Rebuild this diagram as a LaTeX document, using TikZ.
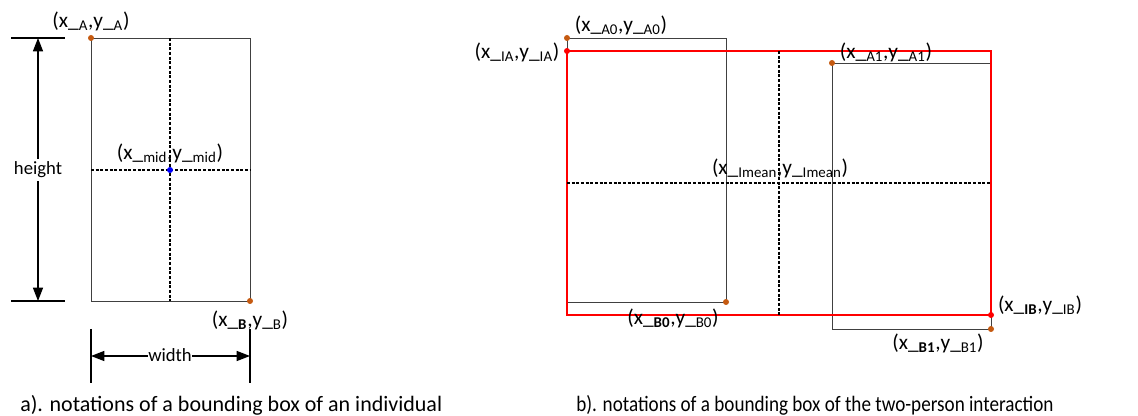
\documentclass[tikz,border=0pt]{standalone}
\usepackage{fontspec}
\setmainfont{Carlito}
\usetikzlibrary{arrows.meta}
\definecolor{cornerorange}{HTML}{C55A11}
\definecolor{boxgray}{HTML}{404040}
\newcommand{\subtxt}[1]{\textsubscript{#1}}
\tikzset{
	boxline/.style={
			draw=boxgray,
			line width=0.7pt
		},
	ibox/.style={
			draw=red,
			line width=0.8pt
		},
	midline/.style={
			draw=black,
			line width=0.9pt,
			dash pattern=on 2.2pt off 1.3pt
		},
	dimline/.style={
			draw=black,
			line width=1pt
		},
	dimarrow/.style={
			dimline,
			{Triangle[length=10pt,width=7.5pt]}-{Triangle[length=10pt,width=7.5pt]}
		},
	cornerdot/.style={
			circle,
			fill=cornerorange,
			inner sep=0pt,
			minimum size=4.5pt
		},
	idot/.style={
			cornerdot,
			fill=red
		},
	middot/.style={
			cornerdot,
			fill=blue
		},
	coordtext/.style={
			font=\fontsize{16}{18}\selectfont,
			inner sep=1pt
		},
	dimtext/.style={
			font=\fontsize{14}{16}\selectfont,
			fill=white
		},
	captiontext/.style={
			font=\fontsize{16.5}{19}\selectfont,
			inner sep=0pt
		}
}

\begin{document}
\begin{tikzpicture}[x=0.75pt, y=-0.75pt]
  \useasboundingbox (0,0) rectangle (1138,416);

  % a) single bounding box
  \coordinate (A) at (91,38);
  \coordinate (B) at (250,301);
  \coordinate (M) at (170,170);

  \draw[boxline] (A) rectangle (B);
  \draw[midline] (M |- A) -- (M |- B);
  \draw[midline] (A |- M) -- (B |- M);

  \node[cornerdot] (dA) at (A) {};
  \node[cornerdot] (dB) at (B) {};
  \node[middot] (dM) at (M) {};

  \node[coordtext] (tA) at (91,21) {(x\_\subtxt{A},y\_\subtxt{A})};
  \node[coordtext] (tM) at (170,153) {(x\_\subtxt{mid},y\_\subtxt{mid})};
  \node[coordtext] (tB) at (250,320) {(x\_\subtxt{\textbf{B}},y\_\subtxt{B})};

  % height
  \coordinate (htop) at (38,38);
  \coordinate (hbot) at (38,301);
  \draw[dimline] (11,38) -- (65,38);
  \draw[dimline] (11,301) -- (65,301);
  \draw[dimarrow] (htop) -- (hbot);
  \node[dimtext, inner sep=2pt] (height) at (38,170) {height};

  % width
  \coordinate (wleft) at (91,356);
  \coordinate (wright) at (250,356);
  \draw[dimline] (91,329) -- (91,383);
  \draw[dimline] (250,329) -- (250,383);
  \draw[dimarrow] (wleft) -- (wright);
  \node[dimtext, inner sep=0.5pt] (width) at (170,355) {width};

  % b) two-person interaction
  \coordinate (A0) at (567,38);
  \coordinate (B0) at (726,302);
  \coordinate (A1) at (832,63);
  \coordinate (B1) at (991,329);
  \coordinate (IA) at (567,51);
  \coordinate (IB) at (991,315);
  \coordinate (Imean) at (779,183);

  \draw[boxline] (A0) rectangle (B0);
  \draw[boxline] (A1) rectangle (B1);
  \draw[ibox] (IA) rectangle (IB);
  \draw[midline] (Imean |- IA) -- (Imean |- IB);
  \draw[midline] (IA |- Imean) -- (IB |- Imean);

  \node[cornerdot] (dA0) at (A0) {};
  \node[cornerdot] (dB0) at (B0) {};
  \node[cornerdot] (dA1) at (A1) {};
  \node[cornerdot] (dB1) at (B1) {};
  \node[idot] (dIA) at (IA) {};
  \node[idot] (dIB) at (IB) {};

  \node[coordtext] (tA0) at (621,25) {(x\_\subtxt{A0},y\_\subtxt{A0})};
  \node[coordtext] (tIA) at (517,52) {(x\_\subtxt{IA},y\_\subtxt{IA})};
  \node[coordtext] (tA1) at (886,52) {(x\_\subtxt{A1},y\_\subtxt{A1})};
  \node[coordtext] (tImean) at (780,168) {(x\_\subtxt{Imean},y\_\subtxt{Imean})};
  \node[coordtext] (tB0) at (673,318) {(x\_\subtxt{\textbf{B0}},y\_\subtxt{B0})};
  \node[coordtext] (tIB) at (1040,305) {(x\_\subtxt{\textbf{IB}},y\_\subtxt{IB})};
  \node[coordtext] (tB1) at (938,343) {(x\_\subtxt{\textbf{B1}},y\_\subtxt{B1})};

  % captions
  \node[captiontext, anchor=base west] (capa) at (20,411) {a). notations of a bounding box of an individual};
  \node[captiontext, anchor=base west] (capb) at (576,411) {\scalebox{0.87}[1]{b). notations of a bounding box of the two-person interaction}};

\end{tikzpicture}
\end{document}
